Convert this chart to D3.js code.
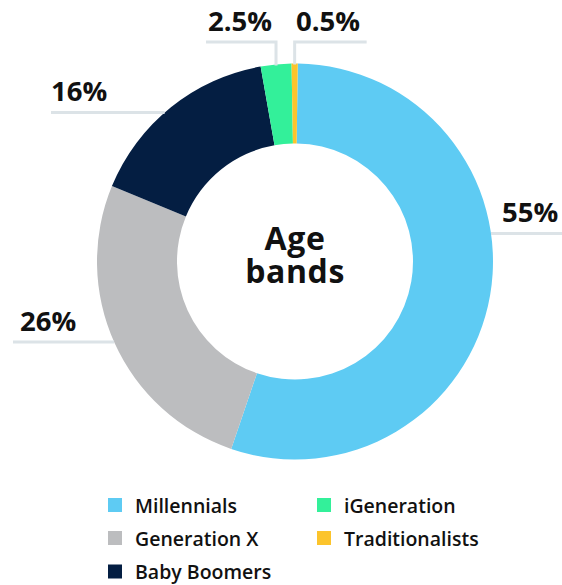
<!DOCTYPE html>
<html>
<head>
<meta charset="utf-8">
<script src="https://cdn.jsdelivr.net/npm/d3@7"></script>
<style>
  html, body { margin: 0; padding: 0; background: #ffffff; }
  svg { display: block; }
  text { font-family: "Open Sans", "Noto Sans", sans-serif; fill: #111111; }
</style>
</head>
<body>
<svg id="chart" width="562" height="585"></svg>
<script>
// Age band shares (percent), drawn clockwise from 12 o'clock
const categories = ["Millennials", "Generation X", "Baby Boomers", "iGeneration", "Traditionalists"];
const shares = [55, 26, 16, 2.5, 0.5];
const shareLabels = ["55%", "26%", "16%", "2.5%", "0.5%"];
const colors = ["#5ecbf3", "#bcbdbf", "#041e42", "#33f09a", "#fcc42c"];
const centerTitle = ["Age", "bands"];

// Legend order (two columns)
const legendOrder = ["Millennials", "Generation X", "Baby Boomers", "iGeneration", "Traditionalists"];

const svg = d3.select("#chart");
const cx = 295, cy = 261.5;
const outerR = 198, innerR = 118;
const startOffset = 0.8 * Math.PI / 180;

const pie = d3.pie().sort(null).value(d => d.value)
  .startAngle(startOffset).endAngle(2 * Math.PI + startOffset);
const arcs = pie(categories.map((c, i) => ({ name: c, value: shares[i], label: shareLabels[i], color: colors[i] })));
const arc = d3.arc().innerRadius(innerR).outerRadius(outerR);

const g = svg.append("g").attr("transform", `translate(${cx},${cy})`);
g.selectAll("path.slice")
  .data(arcs)
  .join("path")
  .attr("class", "slice")
  .attr("d", arc)
  .attr("fill", d => d.data.color);

// Center title, one text per line
centerTitle.forEach((t, i) => {
  g.append("text")
    .attr("text-anchor", "middle")
    .attr("font-size", 32)
    .attr("font-weight", 700)
    .attr("letter-spacing", 0.6)
    .attr("x", 0)
    .attr("y", -11.5 + i * 33)
    .text(t);
});

// Leader lines + value labels
const lineColor = "#dce3e7";
const leaders = svg.append("g");

// horizontal leaders for the larger slices
const sideLayout = {
  "Millennials":  { y: 233.5, side: "right", end: 562, textX: 502 },
  "Generation X": { y: 342, side: "left", end: 13, textX: 20 },
  "Baby Boomers": { y: 112.5, side: "left", end: 51, textX: 51 }
};
// top leaders for the thin slices
const topLayout = {
  "iGeneration":     { y: 42, dir: -1, len: 70, textX: 208 },
  "Traditionalists": { y: 42, dir: 1, len: 72, textX: 296 }
};

function valueLabel(x, y, txt) {
  svg.append("text")
    .attr("x", x).attr("y", y)
    .attr("font-size", 27.5).attr("font-weight", 700)
    .text(txt);
}

arcs.forEach(a => {
  const name = a.data.name;
  if (sideLayout[name]) {
    const L = sideLayout[name];
    const dy = L.y - cy;
    const dx = Math.sqrt(outerR * outerR - dy * dy);
    const xEdge = L.side === "right" ? cx + dx : cx - dx;
    leaders.append("line")
      .attr("x1", xEdge).attr("x2", L.end)
      .attr("y1", L.y).attr("y2", L.y)
      .attr("stroke", lineColor).attr("stroke-width", 3);
    valueLabel(L.textX, L.y - 11.5, a.data.label);
  } else if (topLayout[name]) {
    const L = topLayout[name];
    const mid = (a.startAngle + a.endAngle) / 2;
    const xv = cx + outerR * Math.sin(mid);
    const yv = cy - Math.sqrt(outerR * outerR - (xv - cx) * (xv - cx));
    leaders.append("path")
      .attr("d", `M${xv},${yv + 1}V${L.y}H${xv + L.dir * L.len}`)
      .attr("fill", "none")
      .attr("stroke", lineColor).attr("stroke-width", 3);
    valueLabel(L.textX, L.y - 11.5, a.data.label);
  }
});

// Legend
const legendCols = [108, 317];
const legendRows = [505, 538, 571.5];
const colorOf = d3.scaleOrdinal().domain(categories).range(colors);
const legend = svg.append("g");
legendOrder.forEach((name, i) => {
  const col = i < 3 ? 0 : 1;
  const row = i < 3 ? i : i - 3;
  const x = legendCols[col], y = legendRows[row];
  legend.append("rect")
    .attr("x", x).attr("y", y - 7)
    .attr("width", 14).attr("height", 14)
    .attr("fill", colorOf(name));
  legend.append("text")
    .attr("x", x + 27).attr("y", y + 7.5)
    .attr("font-size", 19.5).attr("font-weight", 600)
    .text(name);
});
</script>
</body>
</html>
